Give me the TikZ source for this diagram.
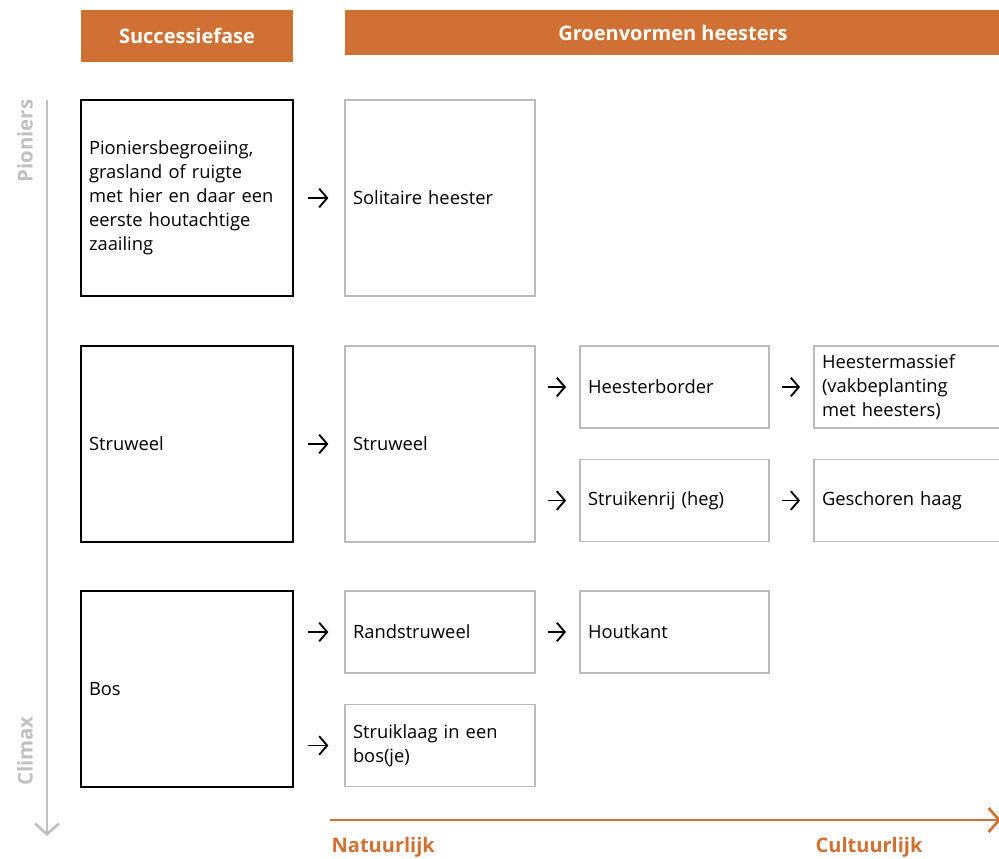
\documentclass[tikz,border=0pt]{standalone}
\usepackage{fontspec}
\setmainfont{Open Sans}
\usetikzlibrary{positioning, arrows.meta}

\definecolor{oranje}{HTML}{CF7134}
\definecolor{lijngrijs}{HTML}{BBBBBB}
\definecolor{asgrijs}{HTML}{C0C0C0}

\begin{document}
\begin{tikzpicture}[x=0.75pt, y=-0.75pt,
      header/.style={rectangle, fill=oranje, text=white, font=\fontsize{15}{18}\selectfont\bfseries,
        inner sep=0pt},
      fase/.style={rectangle, draw=black, line width=1pt, inner xsep=6pt, align=left,
        minimum width=159pt, minimum height=147pt, text width=147pt,
        font=\fontsize{13.75}{18}\selectfont},
      vorm/.style={rectangle, draw=lijngrijs, line width=0.9pt, inner xsep=6pt, align=left,
        minimum width=142.5pt, text width=130.5pt, font=\fontsize{13.75}{18}\selectfont},
      groot/.style={vorm, minimum height=147pt},
      klein/.style={vorm, minimum height=61.5pt},
      smal/.style={klein, minimum width=141.75pt, text width=129.75pt},
      flow/.style={-{Straight Barb[length=6pt, width=14pt]}, line width=1.4pt},
      as/.style={draw=asgrijs, line width=2pt, -{Straight Barb[length=8pt, width=18pt]}},
      aslabel/.style={text=asgrijs, font=\fontsize{15.3}{18}\selectfont\bfseries},
      schaal/.style={text=oranje, font=\fontsize{15}{18}\selectfont\bfseries}
    ]
    \clip (0,0) rectangle (999,858);
    % kopjes
    \node[header, minimum width=159pt, minimum height=39pt] (kopfase) at (187,36) {Successiefase};
    \node[header, minimum width=492pt, minimum height=33.75pt] (kopvorm) at (673,32.5) {Groenvormen heesters};

    % successiefasen
    \node[fase] (pionier) at (187,198) {Pioniersbegroeiing,\\grasland of ruigte\\met hier en daar een\\eerste houtachtige\\zaailing};
    \node[fase] (struweel) at (187,444) {Struweel};
    \node[fase] (bos) at (187,689) {Bos};

    % groenvormen
    \node[groot] (solitair) at (440,198) {Solitaire heester};
    \node[groot] (struweelvorm) at (440,444) {Struweel};
    \node[klein] (rand) at (440,632) {Randstruweel};
    \node[klein] (struiklaag) at (440,745.5) {Struiklaag in een\\bos(je)};
    \node[smal] (border) at (674.5,387) {Heesterborder};
    \node[smal] (rij) at (674.5,500.5) {Struikenrij (heg)};
    \node[smal] (houtkant) at (674.5,632) {Houtkant};
    \node[smal] (massief) at (908.5,387) {Heestermassief\\(vakbeplanting\\met heesters)};
    \node[smal] (haag) at (908.5,500.5) {Geschoren haag};

    % pijlen
    \draw[flow, shorten <=11pt, shorten >=12pt] (pionier) -- (solitair);
    \draw[flow, shorten <=11pt, shorten >=12pt] (struweel) -- (struweelvorm);
    \draw[flow, shorten <=11pt, shorten >=12pt] (bos.east |- rand) -- (rand);
    \draw[flow, shorten <=11pt, shorten >=12pt] (bos.east |- struiklaag) -- (struiklaag);
    \draw[flow, shorten <=9pt, shorten >=10pt] (struweelvorm.east |- border) -- (border);
    \draw[flow, shorten <=9pt, shorten >=10pt] (struweelvorm.east |- rij) -- (rij);
    \draw[flow, shorten <=9pt, shorten >=10pt] (rand) -- (houtkant);
    \draw[flow, shorten <=9pt, shorten >=10pt] (border) -- (massief);
    \draw[flow, shorten <=9pt, shorten >=10pt] (rij) -- (haag);

    % tijdas
    \coordinate (asboven) at (47,100);
    \coordinate (asonder) at (47,836);
    \draw[as] (asboven) -- (asonder);
    \node[aslabel, rotate=90] (pioniers) at (25,141) {Pioniers};
    \node[aslabel, rotate=90] (climax) at (25,751) {Climax};

    % schaal natuurlijk - cultuurlijk
    \coordinate (schaallinks) at (330,820);
    \coordinate (schaalrechts) at (1001,820);
    \draw[draw=oranje, line width=2pt, -{Straight Barb[length=8pt, width=18pt]}] (schaallinks) -- (schaalrechts);
    \node[schaal, anchor=west] (natuurlijk) at (327,847) {Natuurlijk};
    \node[schaal, anchor=west] (cultuurlijk) at (811,847) {Cultuurlijk};
  \end{tikzpicture}
\end{document}
